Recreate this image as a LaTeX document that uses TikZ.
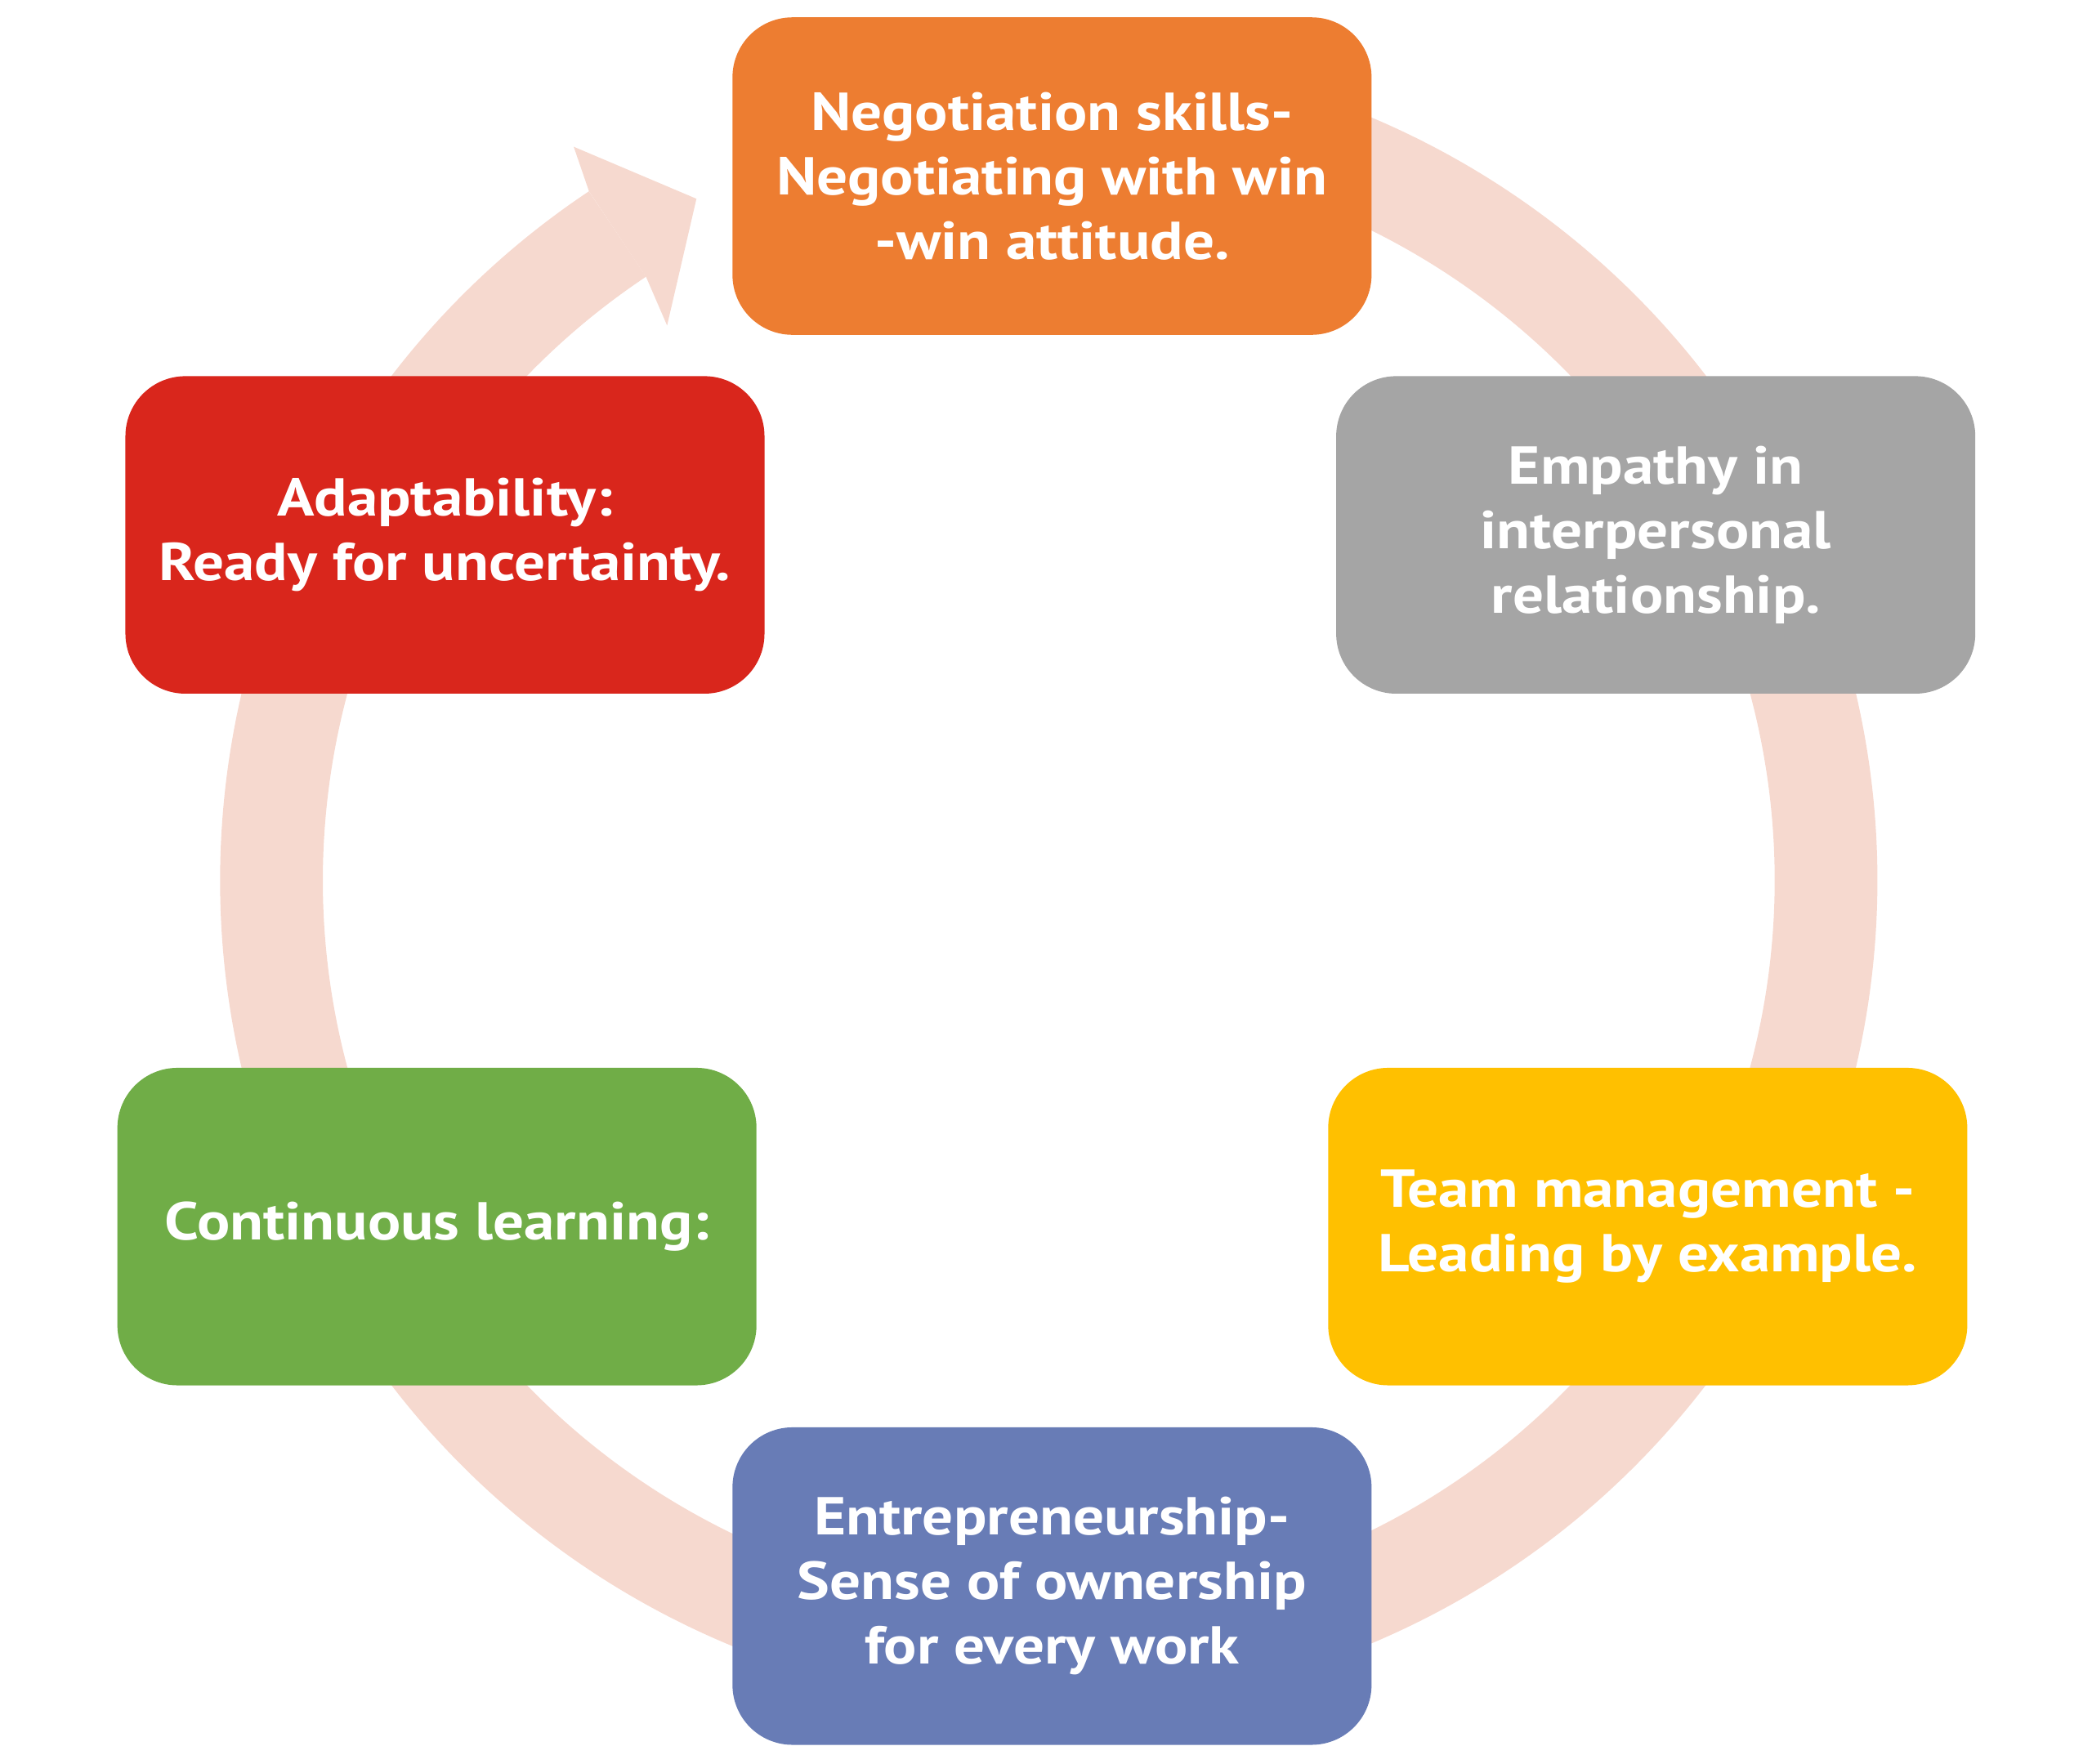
\documentclass[tikz,border=0pt]{standalone}
\usepackage{fontspec}
\setmainfont[FakeStretch=1.15]{PT Sans}
\usetikzlibrary{calc}
\definecolor{ringc}{HTML}{F6D9CF}
\definecolor{orangec}{HTML}{ED7D31}
\definecolor{grayc}{HTML}{A5A5A5}
\definecolor{redc}{HTML}{D9261C}
\definecolor{greenc}{HTML}{70AD47}
\definecolor{yellowc}{HTML}{FFC000}
\definecolor{bluec}{HTML}{687CB6}
\begin{document}
\begin{tikzpicture}[x=1pt,y=1pt,
  box/.style={rectangle, rounded corners=45pt, minimum width=479pt, minimum height=238pt,
    inner sep=0pt, align=center, text=white,
    font=\fontsize{40}{48.5}\selectfont\bfseries},
  ring/.style={draw=ringc, line width=77pt}]
\useasboundingbox (0,0) rectangle (1568,-1322);
\coordinate (c) at (786,-660);
% ring with arrow
\draw[ring] (c) ++(110:582.5) arc[start angle=110, end angle=-236.3, radius=582.5];
\fill[ringc] ($(c)+(123.7:621)$) -- (430,-110) -- (522,-149) -- (500,-244) -- ($(c)+(123.7:544)$) -- cycle;
% boxes
\node[box, fill=orangec] (neg) at (788.5,-132) {Negotiation skills-\\Negotiating with win\\-win attitude.};
\node[box, fill=grayc] (emp) at (1241,-401) {Empathy in\\interpersonal\\relationship.};
\node[box, fill=redc] (ada) at (333.5,-401) {Adaptability:\\Ready for uncertainty.};
\node[box, fill=greenc] (con) at (327.5,-919.5) {Continuous learning:};
\node[box, fill=yellowc] (team) at (1235,-919.5) {Team management -\\Leading by example.};
\node[box, fill=bluec] (ent) at (788.5,-1189) {Entrepreneurship-\\Sense of ownership\\for every work};
\end{tikzpicture}
\end{document}
